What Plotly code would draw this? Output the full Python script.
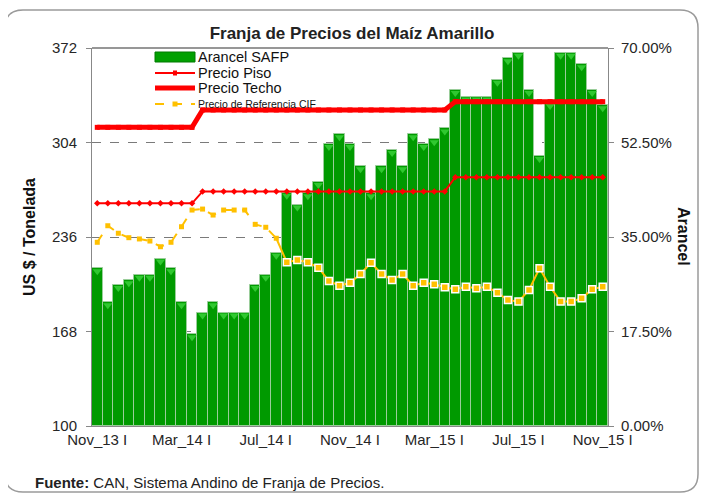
import plotly.graph_objects as go

# ---------------- data ----------------
tick_idx = [0, 8, 16, 24, 32, 40, 48]
tick_labels = ["Nov_13 I", "Mar_14 I", "Jul_14 I", "Nov_14 I", "Mar_15 I", "Jul_15 I", "Nov_15 I"]

arancel = [29.2, 22.9, 26.1, 27.0, 28.0, 28.0, 31.0, 29.2, 22.9, 17.0,
           21.0, 22.9, 21.0, 21.0, 21.0, 26.1, 28.0, 32.1, 43.2, 41.0,
           43.1, 45.2, 52.2, 54.0, 52.2, 48.1, 43.1, 48.1, 51.1, 48.1,
           54.0, 52.2, 53.1, 55.1, 62.2, 61.0, 61.0, 61.0, 64.1, 68.1,
           69.1, 62.2, 50.0, 59.8, 69.1, 69.1, 67.0, 62.2, 59.4]

piso = [260.2] * 10 + [268.8] * 24 + [279.0] * 15
techo = [314.9] * 10 + [327.4] * 24 + [333.4] * 15

cif = [232.2, 244.1, 238.7, 235.5, 234.6, 233.1, 229.0, 232.2, 243.4, 255.4,
       256.1, 251.8, 255.4, 255.4, 255.4, 245.1, 243.0, 235.1, 217.8, 219.5,
       217.8, 213.9, 204.3, 201.0, 203.1, 209.4, 217.5, 209.4, 205.1, 209.4,
       201.0, 203.1, 202.0, 199.8, 198.4, 200.2, 199.1, 200.2, 195.9, 190.7,
       189.5, 197.9, 213.5, 200.2, 189.5, 189.5, 191.9, 198.4, 200.2]
cif_split = 17  # first point of the solid part

left_ticks = [100, 168, 236, 304, 372]
right_ticks = [0, 17.5, 35, 52.5, 70]
right_labels = ["0.00%", "17.50%", "35.00%", "52.50%", "70.00%"]

series_names = ["Arancel SAFP", "Precio Piso", "Precio Techo", "Precio de Referencia CIF"]

x = list(range(len(arancel)))

# ---------------- layout geometry (reference pixel frame) ----------------
OFF = 8                      # page body margin
W, H = 707 - OFF, 495 - OFF
L, R, T, B = 92, 608, 48, 426  # plot area in reference px


def px(xp):
    return (xp - L) / (R - L)


def py(yp):
    return (B - yp) / (B - T)


FONT = "Liberation Sans, Arial, sans-serif"
TXT = "#262626"
ORANGE = "#FFC000"
RED = "#FF0000"
GREEN = "#009A00"
TICKSIZE = 15

fig = go.Figure()

fig.add_trace(go.Bar(
    x=x, y=arancel, name=series_names[0], yaxis="y",
    marker=dict(color=GREEN, line=dict(color="#9ACD9A", width=1)),
    hoverinfo="y"))

# bevel caps at bar tops
fig.add_trace(go.Scatter(
    x=x, y=[a - 0.55 for a in arancel], mode="markers", yaxis="y",
    marker=dict(symbol="triangle-down", size=8, color="#30C830", line=dict(width=0)),
    hoverinfo="skip"))

fig.add_trace(go.Scatter(
    x=x, y=piso, name=series_names[1], yaxis="y2", mode="lines+markers",
    line=dict(color=RED, width=2),
    marker=dict(symbol="diamond", size=5, color=RED)))

fig.add_trace(go.Scatter(
    x=x, y=techo, name=series_names[2], yaxis="y2", mode="lines+markers",
    line=dict(color=RED, width=5),
    marker=dict(symbol="square", size=5, color=RED)))

fig.add_trace(go.Scatter(
    x=x[:cif_split + 1], y=cif[:cif_split + 1], name=series_names[3],
    yaxis="y2", mode="lines+markers",
    line=dict(color=ORANGE, width=2, dash="dash"),
    marker=dict(symbol="square", size=5, color=ORANGE)))

seg = cif[cif_split:]
fig.add_trace(go.Scatter(
    x=x[cif_split:], y=seg, name=series_names[3], yaxis="y2", mode="lines+markers",
    line=dict(color=ORANGE, width=2),
    marker=dict(symbol="square", size=7, color=ORANGE,
                opacity=[0] + [1] * (len(seg) - 1),
                line=dict(color="white", width=1.5))))

# rounded outer frame
l0, r0, t0, b0, rad = 5, 698, 10, 492, 18
pts = [
    ("M", [(l0 + rad, t0)]), ("L", [(r0 - rad, t0)]), ("Q", [(r0, t0), (r0, t0 + rad)]),
    ("L", [(r0, b0 - rad)]), ("Q", [(r0, b0), (r0 - rad, b0)]),
    ("L", [(l0 + rad, b0)]), ("Q", [(l0, b0), (l0, b0 - rad)]),
    ("L", [(l0, t0 + rad)]), ("Q", [(l0, t0), (l0 + rad, t0)]),
]
path = " ".join(c + " " + " ".join(f"{px(a):.5f},{py(b):.5f}" for a, b in p) for c, p in pts) + " Z"

shapes = [
    dict(type="path", xref="paper", yref="paper", path=path,
         line=dict(color="#9A9A9A", width=1.5), layer="below"),
    dict(type="line", xref="paper", yref="paper", x0=0, x1=1, y0=1, y1=1,
         line=dict(color="#303030", width=1.2)),
]

# ---- compact legend (symbol swatches + text) ----
sx0, sx1, tx = 155, 195, 197
rows = [57, 73, 88, 104]
shapes += [
    dict(type="rect", xref="paper", yref="paper", x0=px(sx0), x1=px(sx1),
         y0=py(rows[0] + 5), y1=py(rows[0] - 5), fillcolor="#00A000",
         line=dict(color="#007A00", width=1)),
    dict(type="line", xref="paper", yref="paper", x0=px(sx0), x1=px(sx1),
         y0=py(rows[1]), y1=py(rows[1]), line=dict(color=RED, width=2)),
    dict(type="rect", xref="paper", yref="paper", x0=px(173), x1=px(177),
         y0=py(rows[1] + 2.5), y1=py(rows[1] - 2.5), fillcolor=RED, line=dict(width=0)),
    dict(type="line", xref="paper", yref="paper", x0=px(sx0), x1=px(sx1),
         y0=py(rows[2]), y1=py(rows[2]), line=dict(color=RED, width=5)),
    dict(type="line", xref="paper", yref="paper", x0=px(sx0), x1=px(sx1),
         y0=py(rows[3]), y1=py(rows[3]), line=dict(color=ORANGE, width=2, dash="dash")),
    dict(type="rect", xref="paper", yref="paper", x0=px(172.5), x1=px(177.5),
         y0=py(rows[3] + 2.5), y1=py(rows[3] - 2.5), fillcolor=ORANGE, line=dict(width=0)),
]

annotations = [
    dict(text="<b>US $ / Tonelada</b>", x=px(29), y=py(237), xref="paper", yref="paper",
         xanchor="center", yanchor="middle",
         textangle=-90, showarrow=False, font=dict(family=FONT, size=16, color="#111")),
    dict(text="<b>Arancel</b>", x=px(684), y=py(236), xref="paper", yref="paper",
         xanchor="center", yanchor="middle",
         textangle=90, showarrow=False, font=dict(family=FONT, size=16, color="#111")),
    dict(text="<b>Fuente:</b> CAN, Sistema Andino de Franja de Precios.",
         x=px(33), y=py(482), xref="paper", yref="paper", xanchor="left", yanchor="middle",
         showarrow=False, font=dict(family=FONT, size=15, color="#222")),
]
for i, (name, ry) in enumerate(zip(series_names, rows)):
    annotations.append(dict(
        text=name, x=px(tx), y=py(ry), xref="paper", yref="paper",
        xanchor="left", yanchor="middle", showarrow=False, borderpad=0,
        font=dict(family=FONT, size=10.5 if i == 3 else 14.5, color="#111")))

fig.update_layout(
    width=W, height=H, autosize=False,
    margin=dict(l=L - OFF, r=W - (R - OFF), t=T - OFF, b=H - (B - OFF)),
    paper_bgcolor="white", plot_bgcolor="white",
    bargap=0, showlegend=False,
    title=dict(text="<b>Franja de Precios del Maíz Amarillo</b>", x=(352 - OFF) / W,
               xref="container", xanchor="center", y=1 - (33 - OFF) / H, yanchor="middle",
               font=dict(family=FONT, size=17, color="#222")),
    font=dict(family=FONT, size=TICKSIZE, color=TXT),
    xaxis=dict(range=[-0.5, len(x) - 0.5], tickvals=tick_idx, ticktext=tick_labels,
               showgrid=False, zeroline=False, showline=True, linecolor="#888888",
               ticks="", tickfont=dict(family=FONT, size=TICKSIZE, color=TXT)),
    yaxis=dict(range=[0, 70], tickvals=right_ticks, ticktext=right_labels, side="right",
               showgrid=True, gridcolor="#7A7A7A", griddash="dash", gridwidth=1,
               zeroline=False, showline=True, linecolor="#888888",
               ticks="outside", ticklen=5, tickcolor="#888888", ticklabelstandoff=4,
               tickfont=dict(family=FONT, size=TICKSIZE, color=TXT)),
    yaxis2=dict(range=[100, 372], tickvals=left_ticks, overlaying="y", side="left",
                showgrid=False, zeroline=False, showline=True, linecolor="#888888",
                ticks="outside", ticklen=5, tickcolor="#888888", ticklabelstandoff=6,
                tickfont=dict(family=FONT, size=TICKSIZE, color=TXT)),
    shapes=shapes,
    annotations=annotations,
)

fig.write_html("out.html")
